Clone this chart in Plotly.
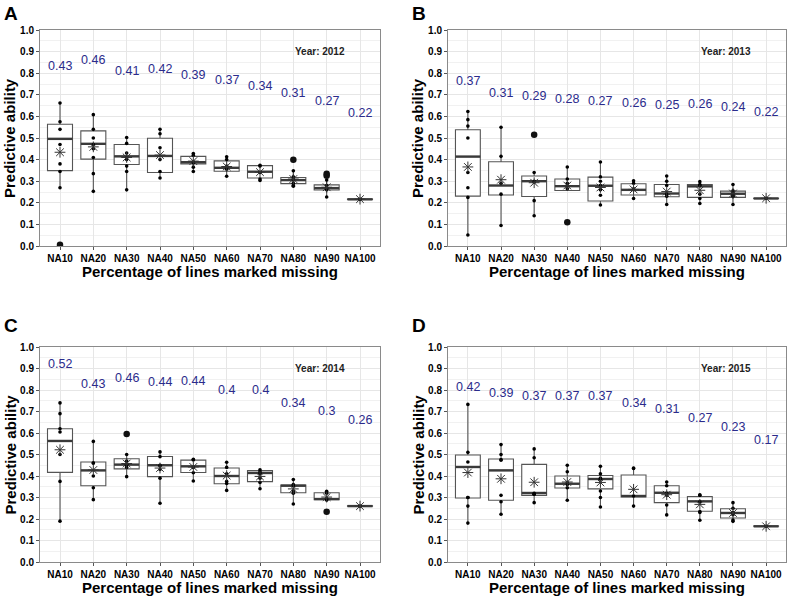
import plotly.graph_objects as go

categories = ["NA10", "NA20", "NA30", "NA40", "NA50", "NA60", "NA70", "NA80", "NA90", "NA100"]
panel_letters = ["A", "B", "C", "D"]
years = [2012, 2013, 2014, 2015]

# ---- 2012 ----
upper_2012 = [0.662, 0.608, 0.502, 0.540, 0.429, 0.413, 0.374, 0.348, 0.305, 0.217]
q3_2012 = [0.564, 0.533, 0.470, 0.499, 0.415, 0.394, 0.372, 0.317, 0.283, 0.217]
median_2012 = [0.496, 0.473, 0.415, 0.417, 0.388, 0.362, 0.344, 0.305, 0.268, 0.216]
q1_2012 = [0.349, 0.402, 0.377, 0.340, 0.380, 0.346, 0.315, 0.289, 0.259, 0.216]
lower_2012 = [0.267, 0.253, 0.259, 0.312, 0.344, 0.323, 0.303, 0.277, 0.227, 0.215]
mean_2012 = [0.434, 0.459, 0.410, 0.421, 0.393, 0.368, 0.342, 0.310, 0.272, 0.217]
outliers_2012 = [[0.006], [], [], [], [], [], [], [0.399], [0.334, 0.325], []]
points_2012 = [
    [0.662, 0.575, 0.54, 0.47, 0.38, 0.345, 0.27],
    [0.608, 0.54, 0.50, 0.47, 0.45, 0.41, 0.335, 0.253],
    [0.502, 0.475, 0.43, 0.41, 0.40, 0.37, 0.345, 0.26],
    [0.54, 0.52, 0.455, 0.40, 0.345, 0.315],
    [0.428, 0.42, 0.39, 0.385, 0.365, 0.345],
    [0.413, 0.40, 0.37, 0.36, 0.355, 0.323],
    [0.374, 0.37, 0.34, 0.31, 0.303],
    [0.348, 0.32, 0.31, 0.305, 0.29, 0.28, 0.277],
    [0.305, 0.28, 0.27, 0.265, 0.26, 0.227],
    [0.216],
]

# ---- 2013 ----
upper_2013 = [0.623, 0.550, 0.340, 0.366, 0.389, 0.302, 0.324, 0.298, 0.285, 0.221]
q3_2013 = [0.538, 0.390, 0.324, 0.310, 0.319, 0.288, 0.285, 0.284, 0.254, 0.221]
median_2013 = [0.414, 0.280, 0.300, 0.277, 0.279, 0.260, 0.243, 0.276, 0.242, 0.220]
q1_2013 = [0.231, 0.236, 0.229, 0.257, 0.208, 0.236, 0.228, 0.225, 0.225, 0.220]
lower_2013 = [0.051, 0.095, 0.140, 0.257, 0.190, 0.220, 0.192, 0.197, 0.192, 0.219]
mean_2013 = [0.366, 0.307, 0.293, 0.280, 0.271, 0.262, 0.252, 0.258, 0.243, 0.221]
outliers_2013 = [[], [], [0.515], [0.11], [], [], [], [], [], []]
points_2013 = [
    [0.623, 0.585, 0.555, 0.50, 0.34, 0.27, 0.225, 0.051],
    [0.55, 0.415, 0.29, 0.24, 0.095],
    [0.34, 0.30, 0.295, 0.21, 0.14],
    [0.366, 0.31, 0.29, 0.28, 0.265],
    [0.389, 0.32, 0.30, 0.28, 0.26, 0.235, 0.19],
    [0.302, 0.29, 0.265, 0.26, 0.22],
    [0.324, 0.30, 0.28, 0.24, 0.23, 0.192],
    [0.298, 0.285, 0.28, 0.24, 0.22, 0.197],
    [0.285, 0.255, 0.245, 0.235, 0.23, 0.192],
    [0.221],
]

# ---- 2014 ----
upper_2014 = [0.740, 0.561, 0.500, 0.512, 0.478, 0.464, 0.429, 0.384, 0.329, 0.261]
q3_2014 = [0.620, 0.465, 0.480, 0.491, 0.474, 0.437, 0.425, 0.358, 0.322, 0.261]
median_2014 = [0.563, 0.426, 0.453, 0.450, 0.445, 0.400, 0.414, 0.355, 0.293, 0.260]
q1_2014 = [0.417, 0.355, 0.433, 0.397, 0.416, 0.364, 0.374, 0.322, 0.290, 0.260]
lower_2014 = [0.188, 0.290, 0.397, 0.273, 0.377, 0.333, 0.341, 0.270, 0.288, 0.259]
mean_2014 = [0.522, 0.428, 0.458, 0.437, 0.442, 0.402, 0.398, 0.340, 0.302, 0.260]
outliers_2014 = [[], [], [0.595], [], [], [], [], [], [0.234], []]
points_2014 = [
    [0.74, 0.69, 0.62, 0.605, 0.50, 0.375, 0.19],
    [0.561, 0.46, 0.46, 0.40, 0.345, 0.29],
    [0.50, 0.47, 0.455, 0.45, 0.44, 0.397],
    [0.512, 0.49, 0.45, 0.43, 0.39, 0.273],
    [0.478, 0.475, 0.44, 0.415, 0.377],
    [0.464, 0.44, 0.41, 0.375, 0.365, 0.333],
    [0.429, 0.42, 0.41, 0.39, 0.37, 0.341],
    [0.384, 0.36, 0.355, 0.33, 0.32, 0.27],
    [0.329, 0.32, 0.295, 0.29, 0.288],
    [0.26],
]

# ---- 2015 ----
upper_2015 = [0.733, 0.546, 0.526, 0.450, 0.445, 0.437, 0.372, 0.312, 0.276, 0.167]
q3_2015 = [0.498, 0.479, 0.454, 0.400, 0.402, 0.405, 0.355, 0.304, 0.248, 0.167]
median_2015 = [0.442, 0.426, 0.321, 0.364, 0.386, 0.307, 0.322, 0.282, 0.228, 0.166]
q1_2015 = [0.298, 0.287, 0.310, 0.344, 0.340, 0.302, 0.276, 0.236, 0.205, 0.166]
lower_2015 = [0.181, 0.222, 0.276, 0.287, 0.256, 0.259, 0.219, 0.194, 0.189, 0.165]
mean_2015 = [0.416, 0.387, 0.371, 0.372, 0.370, 0.338, 0.313, 0.268, 0.228, 0.166]
outliers_2015 = [[], [], [], [], [], [], [], [], [], []]
points_2015 = [
    [0.733, 0.51, 0.465, 0.30, 0.30, 0.26, 0.181],
    [0.546, 0.50, 0.475, 0.475, 0.31, 0.28, 0.222],
    [0.526, 0.485, 0.32, 0.315, 0.315, 0.276],
    [0.45, 0.42, 0.37, 0.36, 0.345, 0.287],
    [0.445, 0.41, 0.39, 0.385, 0.33, 0.30, 0.256],
    [0.437, 0.435, 0.307, 0.26],
    [0.372, 0.355, 0.32, 0.31, 0.265, 0.219],
    [0.312, 0.31, 0.28, 0.235, 0.23, 0.194],
    [0.276, 0.25, 0.23, 0.22, 0.195, 0.189],
    [0.166],
]

panels = [
    (upper_2012, q3_2012, median_2012, q1_2012, lower_2012, mean_2012, outliers_2012, points_2012),
    (upper_2013, q3_2013, median_2013, q1_2013, lower_2013, mean_2013, outliers_2013, points_2013),
    (upper_2014, q3_2014, median_2014, q1_2014, lower_2014, mean_2014, outliers_2014, points_2014),
    (upper_2015, q3_2015, median_2015, q1_2015, lower_2015, mean_2015, outliers_2015, points_2015),
]

W, H = 792, 596
# plot-area pixel rectangles (left, right, top, bottom)
rects = [(40, 380, 30, 246), (448, 786, 30, 246), (40, 380, 347, 562), (448, 786, 347, 562)]

BOX_W = 0.75
LABEL_BLUE = "#2B2B8C"
BORDER = "#8a8a8a"
FONT = "Liberation Sans, Arial, sans-serif"

fig = go.Figure()
pos = list(range(1, len(categories) + 1))

for k, (up, q3, med, q1, lo, mn, outs, pts) in enumerate(panels):
    sfx = "" if k == 0 else str(k + 1)
    xa, ya = "x" + sfx, "y" + sfx
    fig.add_trace(go.Box(
        x=pos, q1=q1, median=med, q3=q3, lowerfence=lo, upperfence=up,
        width=BOX_W, whiskerwidth=0, boxpoints=False,
        fillcolor="white", line=dict(color="#555555", width=1.1),
        xaxis=xa, yaxis=ya, showlegend=False, hoverinfo="skip"))
    # thick median bars
    mx, my = [], []
    for p, m in zip(pos, med):
        mx += [p - BOX_W / 2, p + BOX_W / 2, None]
        my += [m, m, None]
    fig.add_trace(go.Scatter(x=mx, y=my, mode="lines", line=dict(color="#3a3a3a", width=2.4),
                             xaxis=xa, yaxis=ya, showlegend=False, hoverinfo="skip"))
    # individual points
    px, py = [], []
    for p, vals in zip(pos, pts):
        px += [p] * len(vals)
        py += vals
    fig.add_trace(go.Scatter(x=px, y=py, mode="markers",
                             marker=dict(color="black", size=3.6),
                             xaxis=xa, yaxis=ya, showlegend=False, hoverinfo="skip"))
    # outliers
    ox, oy = [], []
    for p, vals in zip(pos, outs):
        ox += [p] * len(vals)
        oy += vals
    if ox:
        fig.add_trace(go.Scatter(x=ox, y=oy, mode="markers",
                                 marker=dict(color="#111111", size=6.5),
                                 xaxis=xa, yaxis=ya, showlegend=False, hoverinfo="skip"))
    # means as asterisks
    fig.add_trace(go.Scatter(x=pos, y=mn, mode="markers",
                             marker=dict(symbol="asterisk-open", size=9, color="#333333",
                                         line=dict(color="#333333", width=1.0)),
                             xaxis=xa, yaxis=ya, showlegend=False, hoverinfo="skip"))
    # mean labels
    for p, m in zip(pos, mn):
        fig.add_annotation(x=p, y=m + 0.4, xref=xa, yref=ya, text=str(round(m, 2)),
                           showarrow=False, font=dict(size=12.5, color=LABEL_BLUE, family=FONT))
    fig.add_annotation(x=8.8, y=0.9, xref=xa, yref=ya, text="<b>Year: %d</b>" % years[k],
                       showarrow=False, font=dict(size=10, color="#222222", family=FONT))

    l, r, t, b = rects[k]
    xdom = [l / W, r / W]
    ydom = [1 - b / H, 1 - t / H]
    xkey = "xaxis" + sfx
    ykey = "yaxis" + sfx
    fig.update_layout({
        xkey: dict(domain=xdom, anchor=ya, range=[0.4, 10.6], tickvals=pos, ticktext=categories,
                   automargin=False, tickangle=0,
                   showgrid=True, gridcolor="#e6e6e6", gridwidth=1, zeroline=False,
                   showline=True, mirror=True, linecolor=BORDER, linewidth=1,
                   ticks="outside", ticklen=3, tickcolor="#555555",
                   tickfont=dict(size=10, color="black", family=FONT, weight="bold")),
        ykey: dict(domain=ydom, anchor=xa, range=[0, 1], dtick=0.1, tickformat=".1f",
                   automargin=False,
                   showgrid=True, gridcolor="#e6e6e6", gridwidth=1, zeroline=False,
                   minor=dict(dtick=0.05, showgrid=True, gridcolor="#f1f1f1", gridwidth=0.7),
                   showline=True, mirror=True, linecolor=BORDER, linewidth=1,
                   ticks="outside", ticklen=3, tickcolor="#555555",
                   tickfont=dict(size=10, color="black", family=FONT, weight="bold")),
    })
    # axis titles
    fig.add_annotation(x=(l + r) / 2 / W, y=1 - (b + 25) / H, xref="paper", yref="paper",
                       text="<b>Percentage of lines marked missing</b>", showarrow=False,
                       xanchor="center", yanchor="middle",
                       font=dict(size=15, color="black", family=FONT))
    fig.add_annotation(x=(l - 30) / W, y=1 - (t + b) / 2 / H, xref="paper", yref="paper",
                       text="<b>Predictive ability</b>", showarrow=False, textangle=-90,
                       xanchor="center", yanchor="middle",
                       font=dict(size=15, color="black", family=FONT))
    # panel letter
    lx = 2 if k % 2 == 0 else 410
    ly = 1 if k < 2 else 313
    fig.add_annotation(x=lx / W, y=1 - ly / H, xref="paper", yref="paper",
                       text="<b>%s</b>" % panel_letters[k], showarrow=False,
                       xanchor="left", yanchor="top",
                       font=dict(size=19, color="black", family=FONT))

fig.update_layout(width=W, height=H, margin=dict(l=0, r=0, t=0, b=0),
                  paper_bgcolor="white", plot_bgcolor="white",
                  font=dict(family=FONT))

fig.write_html("out.html", config={"displayModeBar": False},
               post_script="document.body.style.margin='0';document.body.style.padding='0';")
